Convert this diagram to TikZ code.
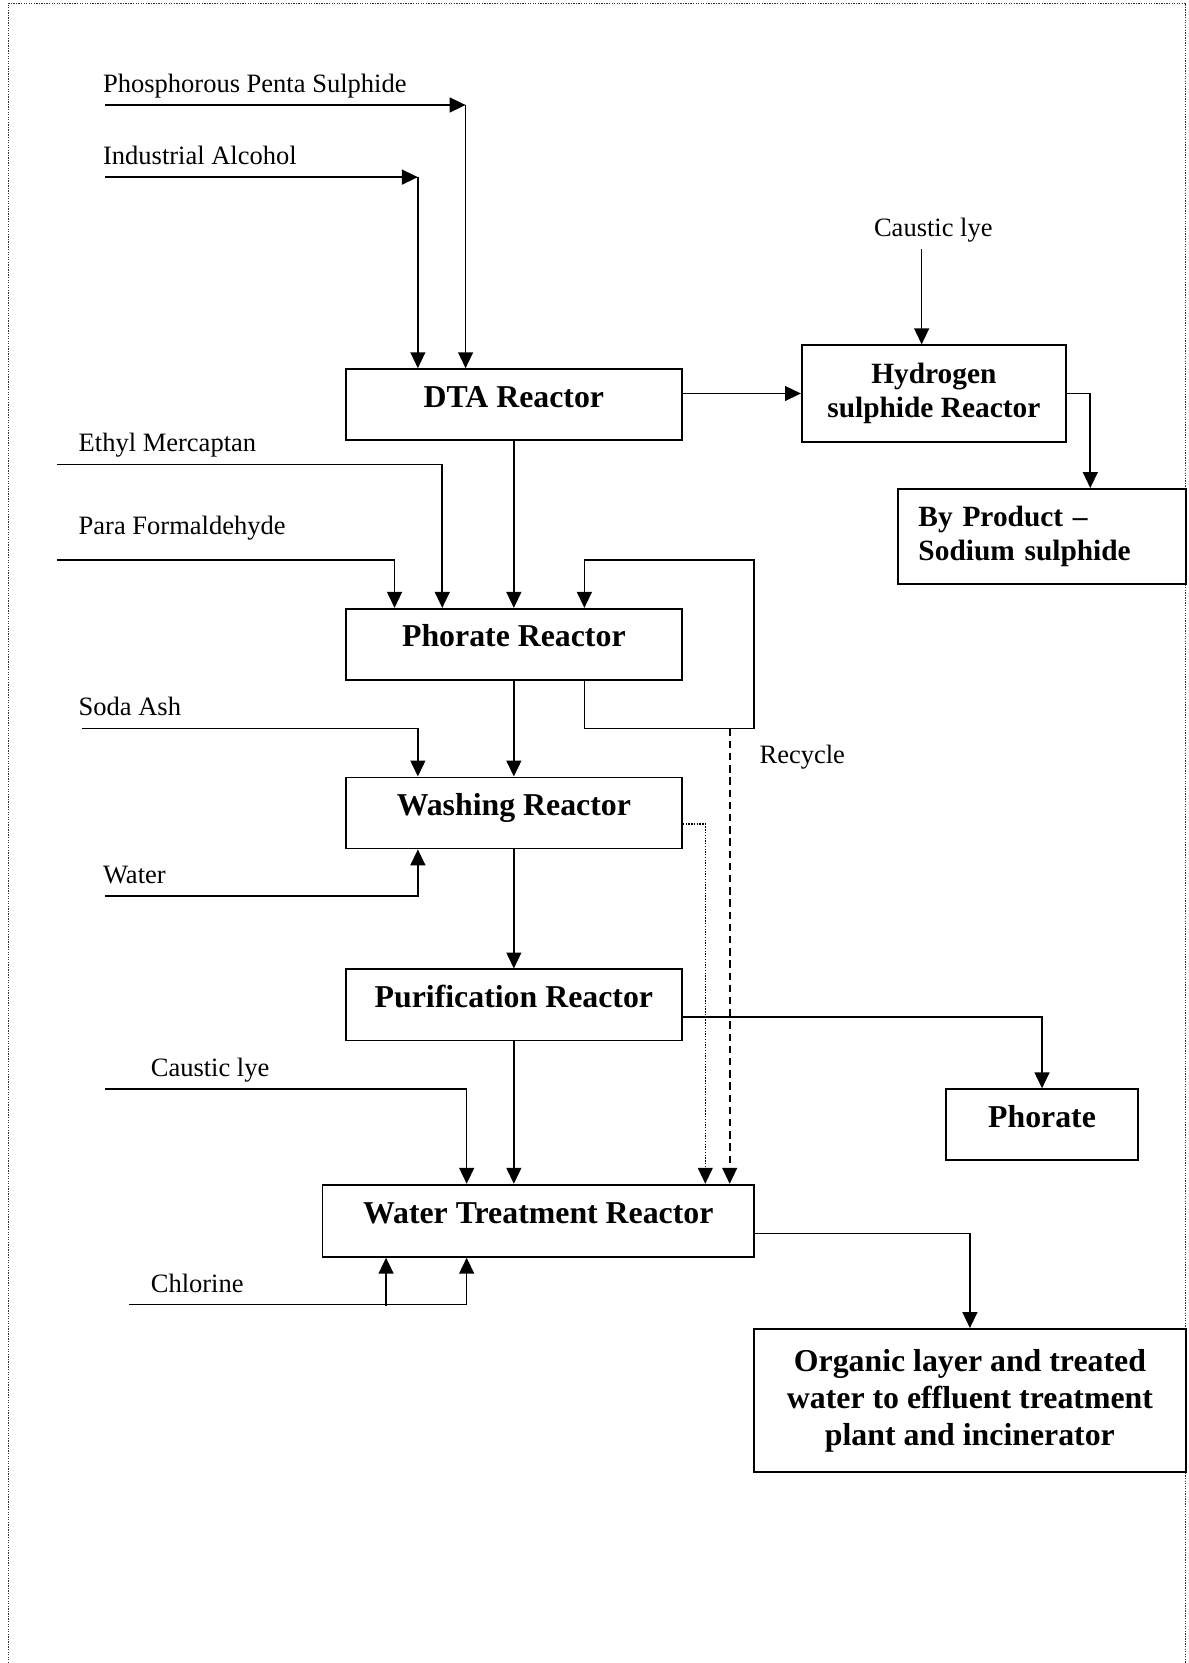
\documentclass[tikz,border=0pt]{standalone}
\usepackage{fontspec}
\setmainfont{Liberation Serif}
\usetikzlibrary{arrows.meta,calc}
\begin{document}
\begin{tikzpicture}[x=1pt,y=-1pt,
  frame/.style={draw,line width=1.7pt,inner sep=0pt,anchor=center},
  box/.style={frame,font=\bfseries\fontsize{30}{35}\selectfont,minimum height=67pt,text height=0.7em,text depth=0.22em},
  mbox/.style={frame,align=center},
  lbl/.style={font=\fontsize{25}{30}\selectfont,anchor=base west,inner sep=0pt},
  arr/.style={line width=1.55pt,-{Triangle[length=15pt,width=14pt]}},
  ln/.style={line width=1.55pt}]
\useasboundingbox (0,0) rectangle (1121,1568);
% page border
\draw[line width=1pt,dash pattern=on 1.2pt off 1.2pt,black!80] (8,1568) -- (8,3) -- (1118,3) -- (1118,1568);

% boxes
\node[box,minimum width=317pt] (dta) at (484.5,381.5) {DTA Reactor};
\node[mbox,minimum width=249pt,minimum height=91pt,font=\bfseries\fontsize{27.7}{32}\selectfont] (hyd) at (880.5,371) {Hydrogen\\sulphide Reactor};
\node[frame,minimum height=90pt,inner xsep=19pt,text width=233pt,align=left,font=\bfseries\fontsize{27.7}{32}\selectfont] (byp) at (982.5,506) {By Product --\\Sodium sulphide};
\node[box,minimum width=317pt] (phr) at (484.5,607.5) {Phorate Reactor};
\node[box,minimum width=317pt] (wash) at (484.5,766.5) {Washing Reactor};
\node[box,minimum width=317pt] (pur) at (484.5,947.5) {Purification Reactor};
\node[box,minimum width=181pt] (phor) at (982.5,1060.5) {Phorate};
\node[box,minimum width=407pt,minimum height=68pt] (wt) at (507.5,1151) {Water Treatment Reactor};
\node[mbox,minimum width=407pt,minimum height=135pt,font=\bfseries\fontsize{30}{35}\selectfont] (org) at (914.5,1320.5) {Organic layer and treated\\water to effluent treatment\\plant and incinerator};

% labels
\node[lbl] (lpps) at (97,87) {Phosphorous Penta Sulphide};
\node[lbl] (lia) at (97,155) {Industrial Alcohol};
\node[lbl,anchor=base] (lclt) at (880,223) {Caustic lye};
\node[lbl] (lem) at (74,426) {Ethyl Mercaptan};
\node[lbl] (lpf) at (74,504) {Para Formaldehyde};
\node[lbl] (lsa) at (74,675) {Soda Ash};
\node[lbl] (lrc) at (716,720) {Recycle};
\node[lbl] (lw) at (97,833) {Water};
\node[lbl] (lclb) at (142,1015) {Caustic lye};
\node[lbl] (lch) at (142,1219) {Chlorine};

% coordinates
\coordinate (ppsS) at (99,99);   \coordinate (ppsE) at (439,99);
\coordinate (iaS) at (99,167);   \coordinate (iaE) at (394,167);
\coordinate (cltS) at (869,235);
\coordinate (hbx) at (1028,0);
\coordinate (emS) at (54,438);   \coordinate (emE) at (417,438);
\coordinate (pfS) at (54,528);   \coordinate (pfE) at (372,528);
\coordinate (rBL) at (551,687);  \coordinate (rBR) at (711,687);
\coordinate (rTR) at (711,528);  \coordinate (rTL) at (551,528);
\coordinate (rD) at (688,687);
\coordinate (saS) at (77,687);   \coordinate (saE) at (394,687);
\coordinate (wS) at (99,845);    \coordinate (wE) at (394,845);
\coordinate (dotx) at (665,0);
\coordinate (clS) at (99,1027);  \coordinate (clE) at (440,1027);
\coordinate (chS) at (122,1230); \coordinate (chE) at (440,1230);
\coordinate (chM) at (364,1231);

% feeds to DTA
\draw[arr] (ppsS) -- (ppsE);
\draw[arr] (ppsE) -- (ppsE |- dta.north);
\draw[arr] (iaS) -- (iaE);
\draw[arr] (iaE) -- (iaE |- dta.north);

% DTA -> H2S reactor -> by product
\draw[arr] (hyd.west -| dta.east) -- (hyd.west);
\draw[arr] (cltS) -- (cltS |- hyd.north);
\draw[arr] (hyd.east) -- (hyd.east -| hbx) -- (hbx |- byp.north);

% feeds to Phorate reactor
\draw[arr] (emS) -- (emE) -- (emE |- phr.north);
\draw[arr] (pfS) -- (pfE) -- (pfE |- phr.north);
\draw[arr] (dta.south) -- (phr.north);

% recycle loop
\draw[arr] (rBL |- phr.south) -- (rBL) -- (rBR) -- (rTR) -- (rTL) -- (rTL |- phr.north);
\draw[arr,dash pattern=on 7pt off 4.5pt] (rD) -- (rD |- wt.north);

% washing
\draw[arr] (phr.south) -- (wash.north);
\draw[arr] (saS) -- (saE) -- (saE |- wash.north);
\draw[arr] (wS) -- (wE) -- (wE |- wash.south);
\draw[arr,line width=1.3pt,dash pattern=on 1.3pt off 1.3pt] ([yshift=-10.5pt]wash.east) -| (dotx |- wt.north);

% purification
\draw[arr] (wash.south) -- (pur.north);
\draw[arr] ([yshift=-11.5pt]pur.east) -| (phor.north);

% water treatment
\draw[arr] (pur.south) -- (pur.south |- wt.north);
\draw[arr] (clS) -- (clE) -- (clE |- wt.north);
\draw[arr] (chS) -- (chE) -- (chE |- wt.south);
\draw[arr] (chM) -- (chM |- wt.south);
\draw[arr] ([yshift=-12pt]wt.east) -| (org.north);
\end{tikzpicture}
\end{document}
